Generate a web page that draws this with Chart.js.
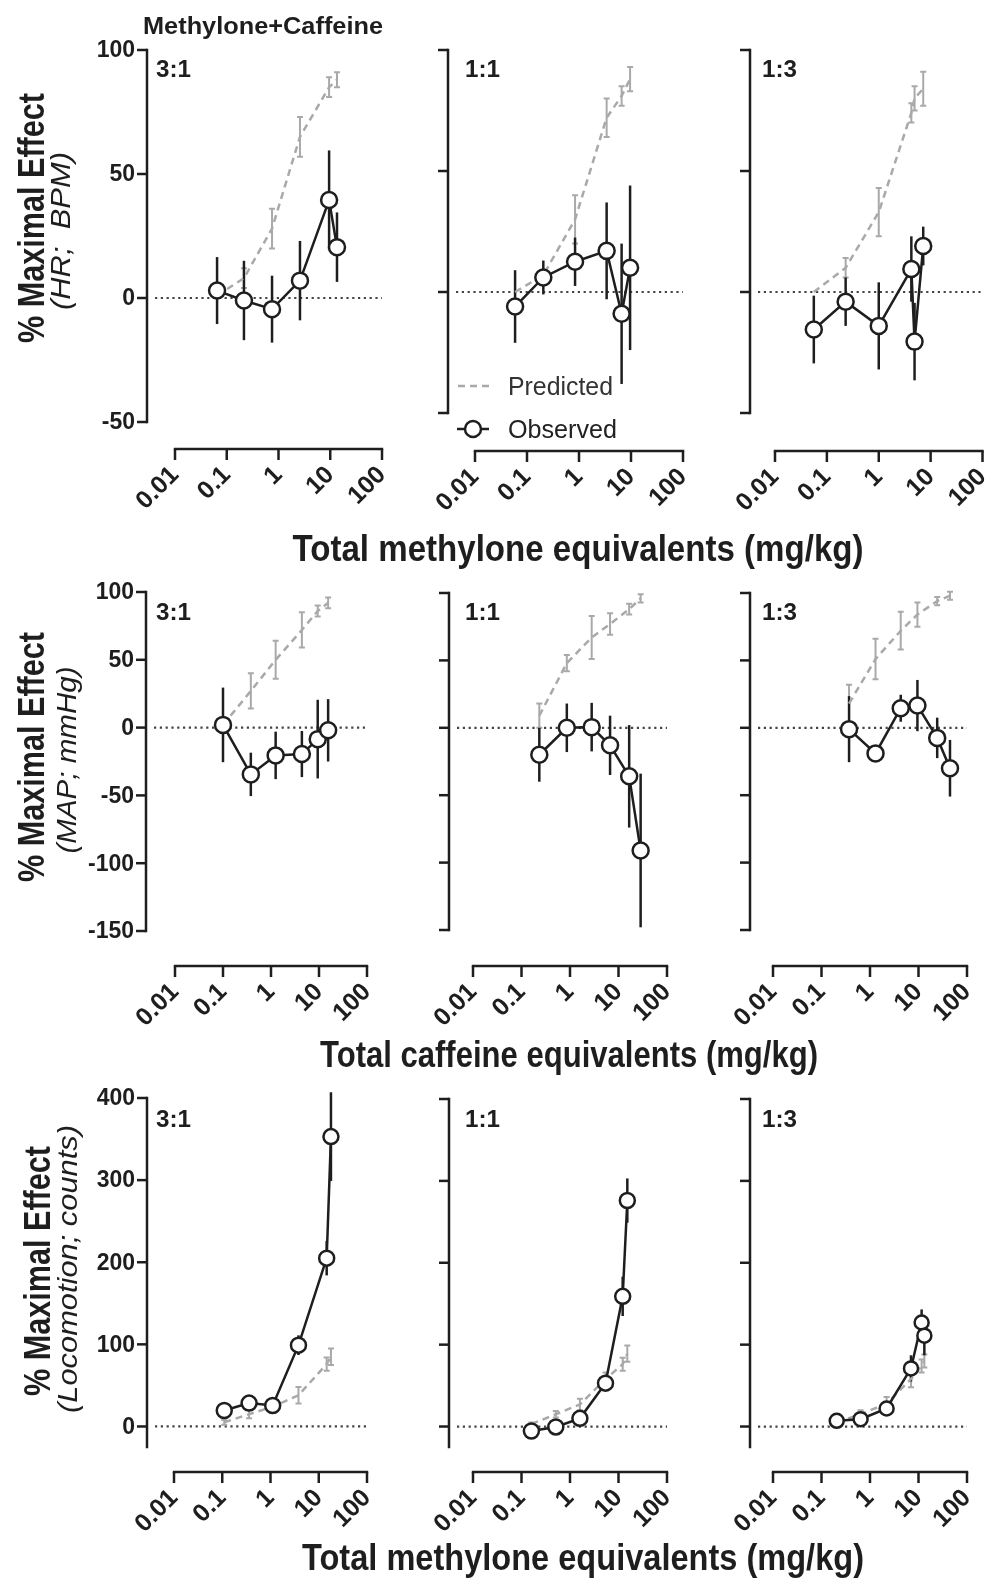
<!DOCTYPE html>
<html>
<head>
<meta charset="utf-8">
<script src="https://cdn.jsdelivr.net/npm/chart.js@4.4.1/dist/chart.umd.min.js"></script>
<style>
  html, body { margin: 0; padding: 0; background: #fff; }
  #fig { position: relative; width: 993px; height: 1579px; }
  #fig canvas { position: absolute; left: 0; top: 0; }
</style>
</head>
<body>
<div id="fig"></div>
<script>
// ---- data ----
// heart rate, x = total methylone equivalents (mg/kg)
const hr31Dose = [0.065, 0.215, 0.75, 2.6, 9.5, 13.5];
const hr31Obs = [3, -1, -4.5, 7, 39.5, 20.5];
const hr31ObsErr = [13.5, 16, 13.5, 16, 20, 14];
const hr31Pred = [1, 8, 28, 65, 85, 88];
const hr31PredErr = [1, 4, 8, 8, 4, 3];

const hr11Dose = [0.059, 0.206, 0.84, 3.4, 6.6, 9.6];
const hr11Obs = [-6, 6, 12.5, 17, -9, 10];
const hr11ObsErr = [15, 7, 10, 20, 29, 34];
const hr11Pred = [0, 7, 30, 72, 81, 88];
const hr11PredErr = [0, 2, 10, 8, 4, 5];

const hr13Dose = [0.056, 0.23, 1.0, 4.25, 4.9, 7.2];
const hr13Obs = [-15.5, -4, -14, 9.5, -20.5, 19];
const hr13ObsErr = [14, 10, 18, 13.5, 16, 8];
const hr13Pred = [0, 10, 33, 74, 80, 84];
const hr13PredErr = [0, 4, 10, 4, 5, 7];

// mean arterial pressure, x = total caffeine equivalents (mg/kg)
const map31Dose = [0.1, 0.38, 1.25, 4.4, 9.4, 15.5];
const map31Obs = [2, -34.5, -20.5, -19.5, -8.5, -2];
const map31ObsErr = [27.5, 16, 17.5, 17, 29, 23];
const map31Pred = [2, 27, 50, 72, 86, 92];
const map31PredErr = [0, 13, 14, 13, 4, 4];

const map11Dose = [0.233, 0.86, 2.8, 6.7, 16.6, 28.6];
const map11Obs = [-20, 0, 0.5, -13, -36, -91];
const map11ObsErr = [20, 18, 18, 22, 38, 57];
const map11Pred = [9, 48, 67, 77, 88, 96];
const map11PredErr = [9, 6, 16, 8, 4, 3];

const map13Dose = [0.37, 1.3, 4.3, 9.5, 24.3, 44.6];
const map13Obs = [-1, -19, 14.5, 16.5, -7.5, -30];
const map13ObsErr = [24.5, 6, 10, 19, 15, 21];
const map13Pred = [18, 51, 72, 84, 94, 98];
const map13PredErr = [14, 15, 14, 9, 3, 3];

// locomotion, x = total methylone equivalents (mg/kg)
const loco31Dose = [0.11, 0.36, 1.11, 3.8, 14.6, 17.9];
const loco31Obs = [19.5, 28.5, 25.5, 99, 205, 353];
const loco31ObsErr = [4, 4, 4, 12, 21, 54];
const loco31Pred = [5, 15, 24, 38, 76, 85];
const loco31PredErr = [3, 5, 5, 10, 8, 10];

const loco11Dose = [0.16, 0.51, 1.6, 5.4, 12.2, 15.2];
const loco11Obs = [-5.5, -0.5, 10, 53, 159, 276];
const loco11ObsErr = [3, 3, 4, 6, 24, 27];
const loco11Pred = [3, 15, 27, 58, 76, 89];
const loco11PredErr = [2, 4, 7, 8, 8, 10];

const loco13Dose = [0.206, 0.64, 2.2, 7.0, 11.6, 13.2];
const loco13Obs = [7, 9, 22, 71, 127, 111];
const loco13ObsErr = [3, 4, 5, 16, 16, 24];
const loco13Pred = [5, 15, 28, 58, 74, 80];
const loco13PredErr = [2, 5, 8, 10, 8, 8];

const xTicks = [0.01, 0.1, 1, 10, 100];
const xTickLabels = ['0.01', '0.1', '1', '10', '100'];
const hrTicks = [-50, 0, 50, 100];
const mapTicks = [-150, -100, -50, 0, 50, 100];
const locoTicks = [0, 100, 200, 300, 400];
const ratios = ['3:1', '1:1', '1:3'];
const yTitles = ['(HR;  BPM)', '(MAP; mmHg)', '(Locomotion; counts)'];
const xTitles = ['Total methylone equivalents (mg/kg)', 'Total caffeine equivalents (mg/kg)', 'Total methylone equivalents (mg/kg)'];

// ---- layout ----
const W = 993, H = 1579;
const FONT = '"Liberation Sans", Arial, sans-serif';
const INK = '#1e1e1e';
const PRED = '#a9a9a9';

const panels = [
  { dose: hr31Dose, obs: hr31Obs, obsErr: hr31ObsErr, pred: hr31Pred, predErr: hr31PredErr,
    area: [175, 50, 382, 422], axisX: 147, xAxisY: 449, yMin: -50, yMax: 100, yTicks: hrTicks, yLabels: true, label: ratios[0], labelX: 156, labelY: 77, r: 8 },
  { dose: hr11Dose, obs: hr11Obs, obsErr: hr11ObsErr, pred: hr11Pred, predErr: hr11PredErr,
    area: [475, 50, 683, 413], axisX: 448, xAxisY: 451, yMin: -50, yMax: 100, yTicks: hrTicks, yLabels: false, label: ratios[1], labelX: 465, labelY: 77, r: 8 },
  { dose: hr13Dose, obs: hr13Obs, obsErr: hr13ObsErr, pred: hr13Pred, predErr: hr13PredErr,
    area: [775, 50, 983, 413], axisX: 750, xAxisY: 451, yMin: -50, yMax: 100, yTicks: hrTicks, yLabels: false, label: ratios[2], labelX: 762, labelY: 77, r: 8 },

  { dose: map31Dose, obs: map31Obs, obsErr: map31ObsErr, pred: map31Pred, predErr: map31PredErr,
    area: [175, 592, 367, 931], axisX: 146, xAxisY: 966, yMin: -150, yMax: 100, yTicks: mapTicks, yLabels: true, label: ratios[0], labelX: 156, labelY: 620, r: 8 },
  { dose: map11Dose, obs: map11Obs, obsErr: map11ObsErr, pred: map11Pred, predErr: map11PredErr,
    area: [473, 593, 667, 930], axisX: 449, xAxisY: 966, yMin: -150, yMax: 100, yTicks: mapTicks, yLabels: false, label: ratios[1], labelX: 465, labelY: 620, r: 8 },
  { dose: map13Dose, obs: map13Obs, obsErr: map13ObsErr, pred: map13Pred, predErr: map13PredErr,
    area: [773, 593, 967, 930], axisX: 750, xAxisY: 966, yMin: -150, yMax: 100, yTicks: mapTicks, yLabels: false, label: ratios[2], labelX: 762, labelY: 620, r: 8 },

  { dose: loco31Dose, obs: loco31Obs, obsErr: loco31ObsErr, pred: loco31Pred, predErr: loco31PredErr,
    area: [174, 1098, 367, 1447], axisX: 147, xAxisY: 1472, yMin: -25, yMax: 400, yTicks: locoTicks, yLabels: true, label: ratios[0], labelX: 156, labelY: 1127, r: 7.5 },
  { dose: loco11Dose, obs: loco11Obs, obsErr: loco11ObsErr, pred: loco11Pred, predErr: loco11PredErr,
    area: [473, 1099, 667, 1447], axisX: 449, xAxisY: 1472, yMin: -25, yMax: 400, yTicks: locoTicks, yLabels: false, label: ratios[1], labelX: 465, labelY: 1127, r: 7.5 },
  { dose: loco13Dose, obs: loco13Obs, obsErr: loco13ObsErr, pred: loco13Pred, predErr: loco13PredErr,
    area: [773, 1099, 967, 1447], axisX: 750, xAxisY: 1472, yMin: -25, yMax: 400, yTicks: locoTicks, yLabels: false, label: ratios[2], labelX: 762, labelY: 1127, r: 7 }
];

// draw text squeezed/stretched to a target width
function fitText(ctx, text, x, y, font, width, rot, align, color) {
  ctx.save();
  ctx.translate(x, y);
  ctx.rotate(rot || 0);
  ctx.font = font;
  ctx.fillStyle = color || INK;
  ctx.textAlign = align || 'left';
  ctx.textBaseline = 'alphabetic';
  const w = ctx.measureText(text).width;
  ctx.scale(width / w, 1);
  ctx.fillText(text, 0, 0);
  ctx.restore();
}

function panelPlugin(p) {
  return {
    id: 'panelAxes',
    beforeDatasetsDraw(chart) {
      const ctx = chart.ctx, xs = chart.scales.x, ys = chart.scales.y, a = chart.chartArea;
      ctx.save();
      // dotted zero line
      const y0 = ys.getPixelForValue(0);
      ctx.strokeStyle = '#444';
      ctx.lineWidth = 2.2;
      ctx.setLineDash([2.2, 3.6]);
      ctx.beginPath();
      ctx.moveTo(p.axisX + 8, y0);
      ctx.lineTo(a.right, y0);
      ctx.stroke();
      ctx.setLineDash([]);

      // predicted error bars
      ctx.strokeStyle = PRED;
      ctx.lineWidth = 2;
      p.dose.forEach((d, i) => {
        const e = p.predErr[i];
        if (!e) return;
        const x = xs.getPixelForValue(d);
        const yt = ys.getPixelForValue(p.pred[i] + e);
        const yb = ys.getPixelForValue(p.pred[i] - e);
        ctx.beginPath();
        ctx.moveTo(x, yt); ctx.lineTo(x, yb);
        ctx.moveTo(x - 3, yt); ctx.lineTo(x + 3, yt);
        ctx.moveTo(x - 3, yb); ctx.lineTo(x + 3, yb);
        ctx.stroke();
      });

      // observed error bars
      ctx.strokeStyle = INK;
      ctx.lineWidth = 2.5;
      p.dose.forEach((d, i) => {
        const e = p.obsErr[i];
        const x = xs.getPixelForValue(d);
        ctx.beginPath();
        ctx.moveTo(x, ys.getPixelForValue(p.obs[i] + e));
        ctx.lineTo(x, ys.getPixelForValue(p.obs[i] - e));
        ctx.stroke();
      });
      ctx.restore();
    },
    afterDraw(chart) {
      const ctx = chart.ctx, xs = chart.scales.x, ys = chart.scales.y;
      ctx.save();
      ctx.strokeStyle = INK;
      ctx.fillStyle = INK;
      ctx.lineWidth = 2.5;

      // y axis
      const yTop = ys.getPixelForValue(p.yMax), yBot = ys.getPixelForValue(p.yMin);
      ctx.beginPath();
      ctx.moveTo(p.axisX, yTop - 1.2);
      ctx.lineTo(p.axisX, yBot + 1.2);
      ctx.stroke();
      ctx.font = 'bold 23px ' + FONT;
      ctx.textAlign = 'right';
      ctx.textBaseline = 'middle';
      p.yTicks.forEach(t => {
        const y = ys.getPixelForValue(t);
        ctx.beginPath();
        ctx.moveTo(p.axisX - 10, y);
        ctx.lineTo(p.axisX, y);
        ctx.stroke();
        if (p.yLabels) ctx.fillText(String(t), p.axisX - 12, y + 1);
      });

      // x axis
      const xl = xs.getPixelForValue(xTicks[0]), xr = xs.getPixelForValue(xTicks[xTicks.length - 1]);
      ctx.beginPath();
      ctx.moveTo(xl - 1.2, p.xAxisY);
      ctx.lineTo(xr + 1.2, p.xAxisY);
      ctx.stroke();
      ctx.font = 'bold 25px ' + FONT;
      xTicks.forEach((t, i) => {
        const x = xs.getPixelForValue(t);
        ctx.beginPath();
        ctx.moveTo(x, p.xAxisY);
        ctx.lineTo(x, p.xAxisY + 11);
        ctx.stroke();
        ctx.save();
        ctx.translate(x, p.xAxisY + 22);
        ctx.rotate(-Math.PI / 4);
        ctx.textAlign = 'right';
        ctx.textBaseline = 'middle';
        ctx.fillText(xTickLabels[i], 0, 0);
        ctx.restore();
      });

      // ratio label
      fitText(ctx, p.label, p.labelX, p.labelY, 'bold 23px ' + FONT, 35, 0, 'left');
      ctx.restore();
    }
  };
}

const figurePlugin = {
  id: 'figureText',
  afterDraw(chart) {
    const ctx = chart.ctx;
    fitText(ctx, 'Methylone+Caffeine', 143, 34, 'bold 23px ' + FONT, 240, 0, 'left');

    const boldX = [44, 44, 50], boldY = [218, 757, 1271];
    const itX = [70, 76, 77], itY = [231, 760, 1269], itW = [158, 187, 288];
    for (let r = 0; r < 3; r++) {
      fitText(ctx, '% Maximal Effect', boldX[r], boldY[r], 'bold 37px ' + FONT, 250, -Math.PI / 2, 'center');
      fitText(ctx, yTitles[r], itX[r], itY[r], 'italic 27px ' + FONT, itW[r], -Math.PI / 2, 'center');
    }
    const xtX = [578, 569, 583], xtY = [561, 1067, 1570], xtW = [571, 498, 562];
    for (let r = 0; r < 3; r++) {
      fitText(ctx, xTitles[r], xtX[r], xtY[r], 'bold 36px ' + FONT, xtW[r], 0, 'center');
    }

    // legend (top row, middle panel)
    ctx.save();
    ctx.strokeStyle = PRED;
    ctx.lineWidth = 2.5;
    ctx.setLineDash([7, 5]);
    ctx.beginPath(); ctx.moveTo(458, 386); ctx.lineTo(492, 386); ctx.stroke();
    ctx.setLineDash([]);
    ctx.strokeStyle = INK;
    ctx.beginPath(); ctx.moveTo(457, 429); ctx.lineTo(489, 429); ctx.stroke();
    ctx.beginPath(); ctx.arc(473, 429, 8, 0, Math.PI * 2);
    ctx.fillStyle = '#fff'; ctx.fill(); ctx.stroke();
    ctx.restore();
    fitText(ctx, 'Predicted', 508, 395, '25px ' + FONT, 105, 0, 'left', '#333');
    fitText(ctx, 'Observed', 508, 438, '25px ' + FONT, 109, 0, 'left', '#222');
  }
};

const fig = document.getElementById('fig');
panels.forEach((p, k) => {
  const cv = document.createElement('canvas');
  cv.width = W; cv.height = H;
  cv.style.width = W + 'px'; cv.style.height = H + 'px';
  fig.appendChild(cv);

  const obsPts = p.dose.map((d, i) => ({ x: d, y: p.obs[i] }));
  const predPts = p.dose.map((d, i) => ({ x: d, y: p.pred[i] }));
  const plugins = [panelPlugin(p)];
  if (k === 0) plugins.push(figurePlugin);

  new Chart(cv, {
    type: 'line',
    data: {
      datasets: [
        { label: 'Observed', data: obsPts, borderColor: INK, borderWidth: 2.5,
          pointRadius: p.r, pointBackgroundColor: '#fff', pointBorderColor: INK, pointBorderWidth: 2.5,
          tension: 0, clip: false, fill: false },
        { label: 'Predicted', data: predPts, borderColor: PRED, borderWidth: 2.5, borderDash: [7, 5],
          pointRadius: 0, tension: 0, clip: false, fill: false }
      ]
    },
    options: {
      responsive: false,
      animation: false,
      devicePixelRatio: 1,
      events: [],
      layout: { padding: { left: p.area[0], top: p.area[1], right: W - p.area[2], bottom: H - p.area[3] } },
      plugins: { legend: { display: false }, tooltip: { enabled: false } },
      scales: {
        x: { type: 'logarithmic', min: 0.01, max: 100, display: false },
        y: { type: 'linear', min: p.yMin, max: p.yMax, display: false }
      }
    },
    plugins: plugins
  });
});
</script>
</body>
</html>
